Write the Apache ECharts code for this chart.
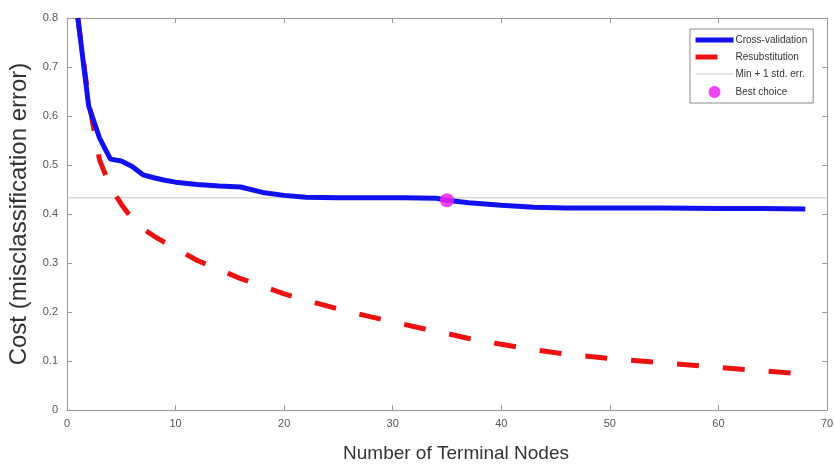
<!DOCTYPE html>
<html>
<head>
<meta charset="utf-8">
<script src="https://cdn.jsdelivr.net/npm/echarts@6/dist/echarts.min.js"></script>
<style>
  html, body { margin: 0; padding: 0; background: #fff; }
  #chart { width: 834px; height: 466px; }
</style>
</head>
<body>
<div id="chart"></div>
<script>
  // number of terminal nodes (x) and the two cost curves
  var nodes = [1, 2, 3, 4, 5, 6, 7, 8, 9, 10, 12, 14, 16, 18, 20, 22, 25, 28, 31, 34, 35, 37, 40, 43, 46, 50, 55, 60, 64, 68];
  var cvCost = [0.80, 0.62, 0.555, 0.512, 0.508, 0.497, 0.48, 0.474, 0.469, 0.465, 0.46, 0.457, 0.455, 0.444, 0.438, 0.434, 0.433, 0.433, 0.433, 0.432, 0.428, 0.423, 0.418, 0.414, 0.412, 0.412, 0.412, 0.411, 0.411, 0.41];
  var resubCost = [0.80, 0.63, 0.51, 0.455, 0.42, 0.39, 0.37, 0.355, 0.342, 0.33, 0.305, 0.287, 0.268, 0.253, 0.237, 0.224, 0.206, 0.19, 0.175, 0.16, 0.156, 0.146, 0.134, 0.123, 0.114, 0.105, 0.096, 0.087, 0.08, 0.073];
  var minPlusStdErr = 0.433;
  var bestChoice = [35, 0.428];
  var xTicks = [0, 10, 20, 30, 40, 50, 60, 70];
  var yTicks = [0, 0.1, 0.2, 0.3, 0.4, 0.5, 0.6, 0.7, 0.8];

  var font = 'Liberation Sans, Arial, sans-serif';
  var gridColor = '#9a9a9a';

  function pairs(xs, ys) {
    var out = [];
    for (var i = 0; i < xs.length; i++) out.push([xs[i], ys[i]]);
    return out;
  }

  var chart = echarts.init(document.getElementById('chart'));
  var axisBase = {
    type: 'value',
    axisLine: { show: true, onZero: false, lineStyle: { color: gridColor, width: 1 } },
    axisTick: { show: true, inside: true, length: 5, lineStyle: { color: gridColor } },
    splitLine: { show: false }
  };

  var option = {
    backgroundColor: '#fff',
    animation: false,
    grid: { left: 67, right: 7, top: 18, bottom: 56, containLabel: false, outerBoundsMode: 'none' },
    legend: {
      orient: 'vertical',
      left: 690,
      top: 29,
      padding: [6, 6, 5, 3],
      itemGap: 7,
      itemWidth: 38,
      itemHeight: 12,
      backgroundColor: '#fff',
      borderColor: '#8a8a8a',
      borderWidth: 1,
      borderRadius: 0,
      textStyle: { fontFamily: font, fontSize: 10, color: '#333', padding: [0, 0, 0, -3] },
      data: [
        { name: 'Cross-validation', itemStyle: { opacity: 0 }, lineStyle: { width: 5 } },
        { name: 'Resubstitution', itemStyle: { opacity: 0 }, lineStyle: { width: 5 } },
        { name: 'Min + 1 std. err.', itemStyle: { opacity: 0 }, lineStyle: { width: 1 } },
        { name: 'Best choice' }
      ]
    },
    xAxis: [
      Object.assign({}, axisBase, {
        min: xTicks[0], max: xTicks[xTicks.length - 1], interval: 10,
        position: 'bottom',
        name: 'Number of Terminal Nodes',
        nameLocation: 'middle',
        nameGap: 34,
        nameTextStyle: { fontFamily: font, fontSize: 19, color: '#333', padding: [0, 0, 0, 18] },
        axisLabel: { fontFamily: font, fontSize: 11, color: '#555', margin: 8 }
      }),
      Object.assign({}, axisBase, {
        min: xTicks[0], max: xTicks[xTicks.length - 1], interval: 10,
        position: 'top',
        axisLabel: { show: false }
      })
    ],
    yAxis: [
      Object.assign({}, axisBase, {
        min: yTicks[0], max: yTicks[yTicks.length - 1], interval: 0.1,
        position: 'left',
        name: 'Cost (misclassification error)',
        nameLocation: 'middle',
        nameGap: 31,
        nameTextStyle: { fontFamily: font, fontSize: 24, color: '#333' },
        axisLabel: { fontFamily: font, fontSize: 11, color: '#555', margin: 9 }
      }),
      Object.assign({}, axisBase, {
        min: yTicks[0], max: yTicks[yTicks.length - 1], interval: 0.1,
        position: 'right',
        axisLabel: { show: false }
      })
    ],
    series: [
      {
        name: 'Min + 1 std. err.',
        type: 'line',
        data: [[xTicks[0], minPlusStdErr], [xTicks[xTicks.length - 1], minPlusStdErr]],
        symbol: 'none',
        lineStyle: { color: '#c8c8c8', width: 1 },
        itemStyle: { color: '#c8c8c8' },
        z: 1
      },
      {
        name: 'Resubstitution',
        type: 'line',
        data: pairs(nodes, resubCost),
        symbol: 'none',
        lineStyle: { color: '#ee1111', width: 5, type: [22, 24], cap: 'butt' },
        itemStyle: { color: '#ee1111' },
        z: 2
      },
      {
        name: 'Cross-validation',
        type: 'line',
        data: pairs(nodes, cvCost),
        symbol: 'none',
        lineStyle: { color: '#1010f0', width: 5 },
        itemStyle: { color: '#1010f0' },
        z: 3
      },
      {
        name: 'Best choice',
        type: 'scatter',
        data: [bestChoice],
        symbol: 'circle',
        symbolSize: 14,
        itemStyle: { color: '#ee22ee', opacity: 0.85 },
        z: 4
      }
    ]
  };
  chart.setOption(option, true);
</script>
</body>
</html>
